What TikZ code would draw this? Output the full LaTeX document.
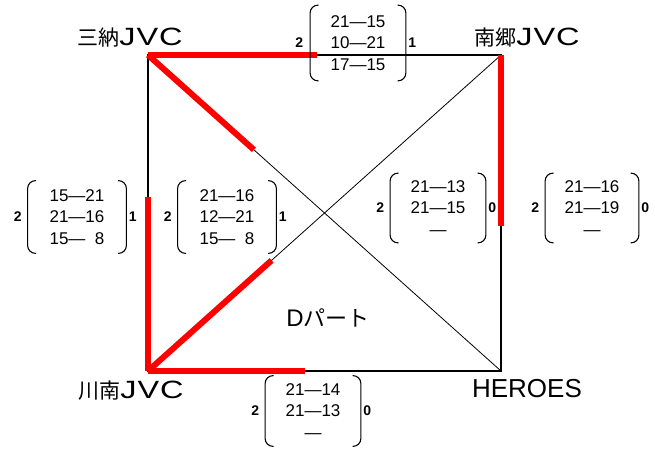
\documentclass[tikz,border=0pt]{standalone}
\usepackage{fontspec}
\setmainfont{Liberation Sans}
\newfontfamily\jp{Noto Sans CJK JP}
\newfontfamily\wide[FakeStretch=1.3,LetterSpace=4]{Liberation Sans}
\usetikzlibrary{positioning,calc}
\definecolor{win}{HTML}{FF0000}

\begin{document}
\begin{tikzpicture}[x=1pt,y=1pt,
  team/.style={font=\fontsize{21}{24}\selectfont,inner sep=0pt},
  edge/.style={line width=2.4pt},
  cross/.style={line width=0.8pt},
  won/.style={win,line width=6pt},
  paren/.style={line width=1.1pt,rounded corners=8pt},
  pts/.style={font=\bfseries\fontsize{14}{14}\selectfont,inner sep=0pt},
  sets/.style={minimum width=97pt,minimum height=74pt,inner sep=0pt,align=center,
    font=\fontsize{17}{21.5}\selectfont,
    path picture={
      \draw[paren] ([xshift=9pt,yshift=-0.6pt]path picture bounding box.north west)
        -- ([xshift=0.6pt,yshift=-0.6pt]path picture bounding box.north west)
        -- ([xshift=0.6pt,yshift=0.6pt]path picture bounding box.south west)
        -- ([xshift=9pt,yshift=0.6pt]path picture bounding box.south west);
      \draw[paren] ([xshift=-9pt,yshift=-0.6pt]path picture bounding box.north east)
        -- ([xshift=-0.6pt,yshift=-0.6pt]path picture bounding box.north east)
        -- ([xshift=-0.6pt,yshift=0.6pt]path picture bounding box.south east)
        -- ([xshift=-9pt,yshift=0.6pt]path picture bounding box.south east);}}]
  \useasboundingbox (0,0) rectangle (655,450);
  % corners
  \coordinate (sn) at (148,395);
  \coordinate (ng) at (501,395);
  \coordinate (kn) at (148,79);
  \coordinate (hr) at (501,79);
  \node[team] (snl) at (130,412) {{\jp 三納}{\wide\fontsize{25}{28}\selectfont JVC}};
  \node[team] (ngl) at (527,412) {{\jp 南郷}{\wide\fontsize{25}{28}\selectfont JVC}};
  \node[team] (knl) at (131,59) {{\jp 川南}{\wide\fontsize{25}{28}\selectfont JVC}};
  \node[team,font=\fontsize{26}{28}\selectfont] (hrl) at (527,61) {HEROES};
  \node[team] (part) at (328,132) {{\fontsize{24}{28}\selectfont D}{\jp\fontsize{22}{24}\selectfont パート}};
  % court
  \draw[edge] (sn) -- (ng) -- (hr) -- (kn) -- cycle;
  \draw[cross] (sn) -- (hr);
  \draw[cross] (kn) -- (ng);
  % winners
  \draw[won] (sn) -- ($(sn)!0.48!(ng)$);
  \draw[won] (sn) -- ($(sn)!0.30!(hr)$);
  \draw[won] (ng) -- ($(ng)!0.54!(hr)$);
  \draw[won] (kn) -- ($(kn)!0.55!(sn)$);
  \draw[won] (kn) -- ($(kn)!0.35!(ng)$);
  \draw[won] (kn) -- ($(kn)!0.445!(hr)$);
  % scores
  \node[sets,minimum height=77pt,label={[pts,label distance=6pt]left:2},label={[pts,label distance=1.5pt]right:1}]
    (s1) at (358,407) {21—15\\10—21\\17—15};
  \node[sets,minimum width=100pt,label={[pts,label distance=5pt]left:2},label={[pts,label distance=1.5pt]right:1}]
    (s2) at (77,233) {15—21\\21—16\\15—\hphantom{1}8};
  \node[sets,minimum width=100pt,label={[pts,label distance=5pt]left:2},label={[pts,label distance=1.5pt]right:1}]
    (s3) at (227,233) {21—16\\12—21\\15—\hphantom{1}8};
  \node[sets,minimum height=71pt,label={[pts,label distance=5pt]left:2},label={[pts,label distance=1.5pt]right:0}]
    (s4) at (438,242) {21—13\\21—15\\—};
  \node[sets,minimum width=95pt,minimum height=71pt,label={[pts,label distance=5pt]left:2},label={[pts,label distance=1.5pt]right:0}]
    (s5) at (592,242) {21—16\\21—19\\—};
  \node[sets,minimum height=72pt,label={[pts,label distance=5pt]left:2},label={[pts,label distance=1.5pt]right:0}]
    (s6) at (313,39) {21—14\\21—13\\—};
\end{tikzpicture}
\end{document}
